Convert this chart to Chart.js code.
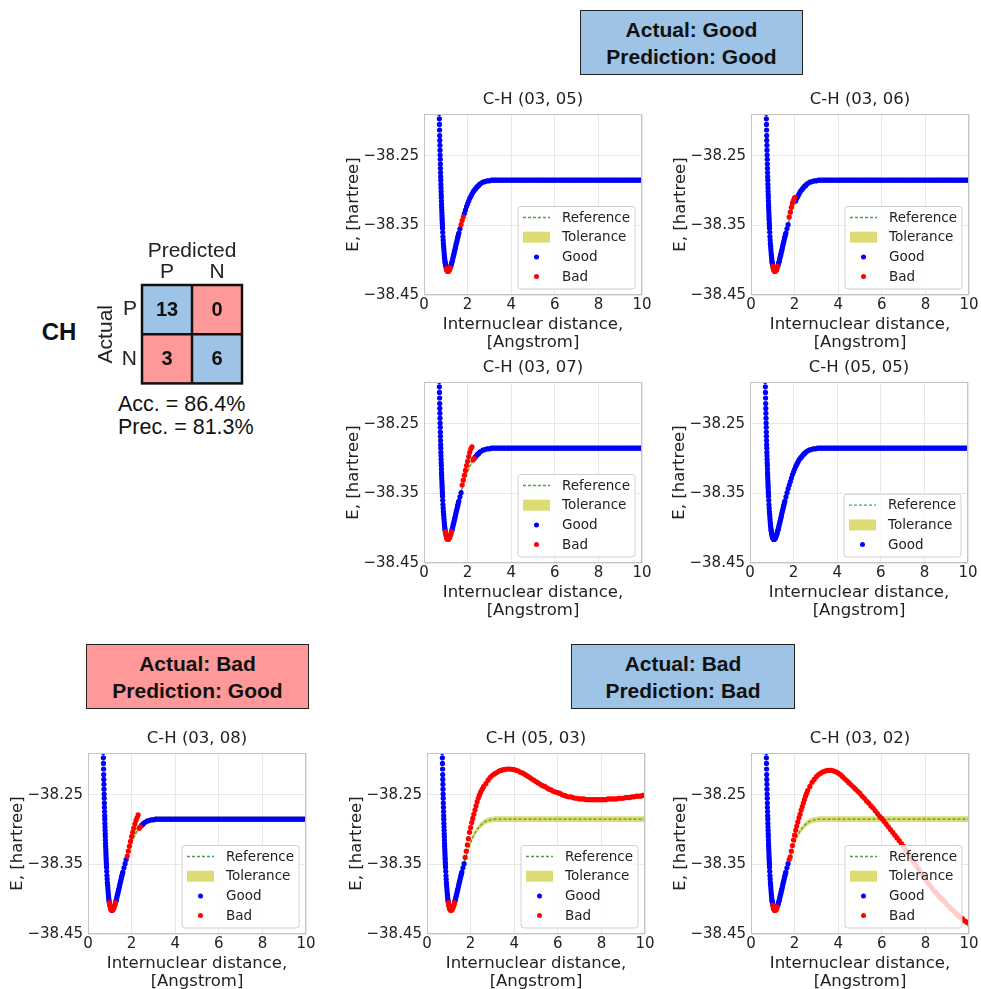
<!DOCTYPE html>
<html lang="en">
<head>
<meta charset="UTF-8" />
<title>CH potential energy curves</title>
<script src="https://cdn.jsdelivr.net/npm/chart.js@4.4.1/dist/chart.umd.min.js"></script>
<style>
  body { margin: 0; width: 981px; height: 989px; overflow: hidden; background: #fff; position: relative;
         font-family: "Liberation Sans", Arial, sans-serif; color: #111; }
  canvas { position: absolute; }
  .box { position: absolute; box-sizing: border-box; border: 1px solid #222; display: flex; flex-direction: column;
         justify-content: center; align-items: center; font-weight: bold; font-size: 21px; line-height: 27px; color: #111; }
  .blue { background: #9dc3e6; }
  .red { background: #ff9999; }
  .txt { position: absolute; white-space: nowrap; line-height: 1; transform: translate(0, -50%); }
</style>
</head>
<body>
<div class="box blue" style="left:580px;top:10px;width:223px;height:65px"><div>Actual: Good</div><div>Prediction: Good</div></div>
<div class="box red" style="left:86px;top:644px;width:223px;height:65px"><div>Actual: Bad</div><div>Prediction: Good</div></div>
<div class="box blue" style="left:571px;top:644px;width:224px;height:65px"><div>Actual: Bad</div><div>Prediction: Bad</div></div>
<div class="txt" style="left:59px;top:332px;transform:translate(-50%,-50%);font-weight:bold;font-size:24px">CH</div>
<div class="txt" id="acc" style="left:118px;top:405px;font-size:21.5px"></div>
<div class="txt" id="prec" style="left:118px;top:428px;font-size:21.5px"></div>
<script>
// ---- confusion matrix (rows = actual P/N, cols = predicted P/N)
const cmLabels = ['P', 'N']
const cmCounts = [[13, 0], [3, 6]]

// ---- shared sample grid, Angstrom
const rGrid = [
  0.68, 0.685, 0.69, 0.695, 0.70, 0.705, 0.71, 0.715, 0.72, 0.725, 0.73, 0.735, 0.74, 0.745, 0.75, 0.755, 0.76, 0.765,
  0.77, 0.775, 0.78, 0.785, 0.79, 0.795, 0.80, 0.805, 0.81, 0.815, 0.82, 0.825, 0.83, 0.835, 0.84, 0.845, 0.85,
  0.86, 0.87, 0.88, 0.89, 0.90, 0.91, 0.92, 0.93, 0.94, 0.95, 0.96, 0.97, 0.98, 0.99, 1.00,
  1.02, 1.04, 1.06, 1.08, 1.10, 1.12, 1.14, 1.16, 1.18, 1.20, 1.22, 1.24, 1.26, 1.28, 1.30, 1.32, 1.34, 1.36, 1.38, 1.40,
  1.42, 1.44, 1.46, 1.48, 1.50, 1.52, 1.54, 1.56, 1.58, 1.60,
  1.65, 1.70, 1.75, 1.80, 1.85, 1.90, 1.95, 2.00, 2.05, 2.10, 2.15, 2.20, 2.25, 2.30, 2.35, 2.40, 2.45, 2.50, 2.55, 2.60,
  2.7, 2.8, 2.9, 3.0, 3.1, 3.2, 3.3, 3.4, 3.5, 3.6, 3.7, 3.8, 3.9, 4.0, 4.1, 4.2, 4.3, 4.4, 4.5, 4.6, 4.7, 4.8, 4.9, 5.0,
  5.1, 5.2, 5.3, 5.4, 5.5, 5.6, 5.7, 5.8, 5.9, 6.0, 6.1, 6.2, 6.3, 6.4, 6.5, 6.6, 6.7, 6.8, 6.9, 7.0, 7.1, 7.2, 7.3, 7.4,
  7.5, 7.6, 7.7, 7.8, 7.9, 8.0, 8.1, 8.2, 8.3, 8.4, 8.5, 8.6, 8.7, 8.8, 8.9, 9.0, 9.1, 9.2, 9.3, 9.4, 9.5, 9.6, 9.7, 9.8,
  9.9, 10.0
]

// ---- reference energy on the grid, hartree
const refE = [
  -38.153, -38.163, -38.172, -38.180, -38.189, -38.197, -38.205, -38.213, -38.221, -38.228, -38.235, -38.242, -38.249,
  -38.255, -38.262, -38.268, -38.274, -38.280, -38.285, -38.291, -38.296, -38.301, -38.306, -38.310, -38.315, -38.320,
  -38.324, -38.328, -38.332, -38.336, -38.340, -38.343, -38.347, -38.350, -38.354,
  -38.360, -38.366, -38.371, -38.376, -38.380, -38.384, -38.388, -38.392, -38.395, -38.398, -38.401, -38.403, -38.405,
  -38.407, -38.409,
  -38.412, -38.414, -38.415, -38.416, -38.416, -38.416, -38.415, -38.414, -38.413, -38.411, -38.409, -38.408, -38.405,
  -38.403, -38.401, -38.398, -38.395, -38.393, -38.390, -38.387, -38.385, -38.382, -38.379, -38.376, -38.374, -38.371,
  -38.368, -38.366, -38.363, -38.361,
  -38.355, -38.349, -38.343, -38.338, -38.333, -38.328, -38.323, -38.319, -38.315, -38.311, -38.308, -38.305, -38.302,
  -38.300, -38.298, -38.296, -38.294, -38.293, -38.291, -38.290,
  -38.288, -38.287, -38.286, -38.286,
  -38.285, -38.285, -38.285, -38.285, -38.285, -38.285, -38.285, -38.285, -38.285, -38.285, -38.285, -38.285, -38.285,
  -38.285, -38.285, -38.285, -38.285, -38.285, -38.285, -38.285, -38.285, -38.285, -38.285, -38.285, -38.285, -38.285,
  -38.285, -38.285, -38.285, -38.285, -38.285, -38.285, -38.285, -38.285, -38.285, -38.285, -38.285, -38.285, -38.285,
  -38.285, -38.285, -38.285, -38.285, -38.285, -38.285, -38.285, -38.285, -38.285, -38.285, -38.285, -38.285, -38.285,
  -38.285, -38.285, -38.285, -38.285, -38.285, -38.285, -38.285, -38.285, -38.285, -38.285, -38.285, -38.285, -38.285,
  -38.285, -38.285, -38.285, -38.285, -38.285
]
const tolerance = 0.004

// ---- where the model departs from the reference (values start at the given r)
const dev0306 = [-38.338, -38.331, -38.324, -38.318, -38.314, -38.310]
const dev0307 = [-38.338, -38.331, -38.324, -38.317, -38.310, -38.304, -38.297, -38.291, -38.286, -38.283]
const dev0308 = [-38.338, -38.331, -38.324, -38.317, -38.310, -38.304, -38.298, -38.292, -38.287, -38.283, -38.279]
const dev0503 = [
  -38.340, -38.331, -38.322, -38.313, -38.304, -38.297, -38.290, -38.284, -38.278, -38.272, -38.266, -38.260, -38.255,
  -38.251, -38.247, -38.244, -38.241, -38.238,
  -38.234, -38.229, -38.225, -38.222, -38.220, -38.218, -38.216, -38.215, -38.214, -38.2135, -38.213, -38.213, -38.2135,
  -38.214, -38.215, -38.216, -38.218, -38.219, -38.221, -38.223, -38.225, -38.227, -38.229, -38.231, -38.233, -38.235,
  -38.237, -38.238, -38.240, -38.242, -38.243, -38.245, -38.246, -38.247, -38.248, -38.250, -38.251, -38.252, -38.253,
  -38.253, -38.254, -38.255, -38.255, -38.256, -38.256, -38.256, -38.257, -38.257, -38.257, -38.257, -38.257, -38.257,
  -38.257, -38.257, -38.257, -38.257, -38.256, -38.256, -38.256, -38.256, -38.256, -38.255, -38.255, -38.255, -38.254,
  -38.254, -38.254, -38.253, -38.253, -38.252, -38.252, -38.252, -38.251, -38.251
]
const dev0302 = [
  -38.343, -38.339, -38.331, -38.323, -38.315, -38.308, -38.301, -38.295, -38.289, -38.283, -38.278, -38.272, -38.267,
  -38.262, -38.257, -38.252, -38.248, -38.244,
  -38.238, -38.232, -38.228, -38.224, -38.221, -38.219, -38.217, -38.216, -38.215, -38.215, -38.215, -38.216, -38.217,
  -38.219, -38.221, -38.224, -38.227, -38.230, -38.233, -38.236, -38.239, -38.242, -38.245, -38.248, -38.252, -38.255,
  -38.259, -38.262, -38.266, -38.269, -38.273, -38.277, -38.281, -38.284, -38.288, -38.292, -38.296, -38.300, -38.304,
  -38.308, -38.312, -38.316, -38.320, -38.324, -38.329, -38.334, -38.339, -38.344, -38.348, -38.353, -38.357, -38.362,
  -38.367, -38.372, -38.376, -38.380, -38.384, -38.388, -38.391, -38.395, -38.398, -38.401, -38.404, -38.408, -38.411,
  -38.414, -38.417, -38.420, -38.423, -38.426, -38.428, -38.431, -38.433, -38.435
]

// ---- r ranges flagged "Bad"
const bad0305 = [[1.02, 1.20], [1.70, 1.80]]
const bad0306 = [[1.00, 1.22], [1.75, 2.00]]
const bad0307 = [[0.98, 1.26], [1.75, 2.30]]
const bad0505 = []
const bad0308 = [[0.98, 1.26], [1.80, 2.40]]
const bad0503 = [[0.98, 1.26], [1.75, 10]]
const bad0302 = [[1.00, 1.20], [1.75, 10]]

const xTicks = [0, 2, 4, 6, 8, 10]
const yTicks = [-38.45, -38.35, -38.25]

const panels = [
  { title: 'C-H (03, 05)', bad: bad0305, devFrom: 0, dev: null, left: 424, top: 114 },
  { title: 'C-H (03, 06)', bad: bad0306, devFrom: 1.75, dev: dev0306, left: 751, top: 114 },
  { title: 'C-H (03, 07)', bad: bad0307, devFrom: 1.75, dev: dev0307, left: 424, top: 382 },
  { title: 'C-H (05, 05)', bad: bad0505, devFrom: 0, dev: null, left: 750, top: 382 },
  { title: 'C-H (03, 08)', bad: bad0308, devFrom: 1.80, dev: dev0308, left: 88, top: 753 },
  { title: 'C-H (05, 03)', bad: bad0503, devFrom: 1.75, dev: dev0503, left: 427, top: 753 },
  { title: 'C-H (03, 02)', bad: bad0302, devFrom: 1.75, dev: dev0302, left: 751, top: 753 },
]

const GOOD = '#0000ff'
const BAD = '#ff0000'
const REF_COLOR = 'rgba(40,150,40,0.85)'
const TOL_COLOR = 'rgba(191,191,0,0.55)'
const PLOT_W = 218, PLOT_H = 181, AXIS_W = 80, TITLE_H = 30, XAXIS_H = 56, PAD_R = 15

Chart.defaults.font.family = "'DejaVu Sans', sans-serif"
Chart.defaults.color = '#222'
Chart.defaults.animation = false

const predicted = (from, dev) => {
  let k = 0
  return rGrid.map((r, i) => (dev && r >= from - 1e-9 && k < dev.length ? dev[k++] : refE[i]))
}
const isBad = (r, ranges) => ranges.some(([a, b]) => r >= a - 1e-9 && r <= b + 1e-9)
const minus = (v) => v.toFixed(2).replace('-', '\u2212')

// frame + matplotlib-like legend in the lower right corner
const panelDecor = (items) => ({
  id: 'panelDecor',
  afterDraw(chart) {
    const { ctx, chartArea: a } = chart
    ctx.save()
    ctx.strokeStyle = '#c4c4c4'
    ctx.lineWidth = 1
    ctx.strokeRect(a.left + 0.5, a.top + 0.5, a.width - 1, a.height - 1)

    const w = 117
    const h = 23.4 + (items.length - 1) * 19.7
    const x0 = a.right - 7 - w
    const y0 = a.bottom - 6 - h
    ctx.beginPath()
    if (ctx.roundRect) ctx.roundRect(x0, y0, w, h, 3)
    else ctx.rect(x0, y0, w, h)
    ctx.fillStyle = 'rgba(255,255,255,0.8)'
    ctx.fill()
    ctx.strokeStyle = '#d0d0d0'
    ctx.stroke()

    items.forEach(([label, kind], i) => {
      const cy = y0 + 11 + i * 19.7
      if (kind === 'line') {
        ctx.setLineDash([3, 2])
        ctx.strokeStyle = REF_COLOR
        ctx.lineWidth = 1.3
        ctx.beginPath()
        ctx.moveTo(x0 + 5, cy)
        ctx.lineTo(x0 + 32, cy)
        ctx.stroke()
        ctx.setLineDash([])
      } else if (kind === 'patch') {
        ctx.fillStyle = TOL_COLOR
        ctx.fillRect(x0 + 5, cy - 5.5, 27, 11)
      } else {
        ctx.fillStyle = kind === 'good' ? GOOD : BAD
        ctx.beginPath()
        ctx.arc(x0 + 18.5, cy, 2.5, 0, Math.PI * 2)
        ctx.fill()
      }
      ctx.fillStyle = '#222'
      ctx.font = "13.5px 'DejaVu Sans'"
      ctx.textBaseline = 'middle'
      ctx.fillText(label, x0 + 44, cy + 0.5)
    })
    ctx.restore()
  },
})

function makePanel(p) {
  const cv = document.createElement('canvas')
  cv.width = AXIS_W + PLOT_W + PAD_R
  cv.height = TITLE_H + PLOT_H + XAXIS_H
  cv.style.left = p.left - AXIS_W + 'px'
  cv.style.top = p.top - TITLE_H + 'px'
  document.body.appendChild(cv)

  const pred = predicted(p.devFrom, p.dev)
  const pts = rGrid.map((r, i) => ({ x: r, y: pred[i] }))
  const good = pts.filter((q) => !isBad(q.x, p.bad))
  const bad = pts.filter((q) => isBad(q.x, p.bad))
  const items = [['Reference', 'line'], ['Tolerance', 'patch'], ['Good', 'good']]
  if (bad.length) items.push(['Bad', 'bad'])

  const dots = (data, color) => ({
    data, showLine: false, pointRadius: 2.6, pointHoverRadius: 0, pointBorderWidth: 0,
    pointBackgroundColor: color, clip: 0,
  })

  new Chart(cv, {
    type: 'line',
    data: {
      datasets: [
        dots(bad, BAD),
        dots(good, GOOD),
        {
          data: rGrid.map((r, i) => ({ x: r, y: refE[i] })),
          borderColor: REF_COLOR, borderWidth: 1.2, borderDash: [3, 2], pointRadius: 0, fill: false, clip: 0,
        },
        { data: rGrid.map((r, i) => ({ x: r, y: refE[i] + tolerance })), borderWidth: 0, pointRadius: 0, fill: false, clip: 0 },
        {
          data: rGrid.map((r, i) => ({ x: r, y: refE[i] - tolerance })),
          borderWidth: 0, pointRadius: 0, fill: '-1', backgroundColor: TOL_COLOR, clip: 0,
        },
      ],
    },
    options: {
      responsive: false,
      events: [],
      layout: { padding: { left: 0, right: PAD_R, top: 0, bottom: 0 } },
      plugins: {
        legend: { display: false },
        tooltip: { enabled: false },
        title: {
          display: true, text: p.title, fullSize: false, color: '#222',
          font: { size: 16.5, weight: 'normal', lineHeight: 1.2 },
          padding: { top: 6, bottom: 4.2 },
        },
      },
      scales: {
        x: {
          type: 'linear', min: 0, max: 10,
          afterBuildTicks: (s) => { s.ticks = xTicks.map((v) => ({ value: v })) },
          ticks: { font: { size: 15 }, padding: 1, maxRotation: 0 },
          grid: { color: '#e8e8e8', drawTicks: false },
          border: { display: false },
          title: {
            display: true, text: ['Internuclear distance,', '[Angstrom]'],
            font: { size: 16.5, lineHeight: 1.05 }, padding: { top: 0, bottom: 0 },
          },
          afterFit: (s) => { s.height = XAXIS_H },
        },
        y: {
          type: 'linear', min: -38.45, max: -38.19,
          afterBuildTicks: (s) => { s.ticks = yTicks.map((v) => ({ value: v })) },
          ticks: { font: { size: 15 }, padding: 5, callback: (v) => minus(v) },
          grid: { color: '#e8e8e8', drawTicks: false },
          border: { display: false },
          title: { display: true, text: 'E, [hartree]', font: { size: 16.5, lineHeight: 1.2 }, padding: 0 },
          afterFit: (s) => { s.width = AXIS_W },
        },
      },
    },
    plugins: [panelDecor(items)],
  })
}

panels.forEach(makePanel)

// ---- confusion matrix as a stacked bar chart of unit cells
const cmCanvas = document.createElement('canvas')
cmCanvas.width = 48 + 100 + 6
cmCanvas.height = 50 + 100 + 16
cmCanvas.style.left = 142 - 48 + 'px'
cmCanvas.style.top = 285 - 50 + 'px'
document.body.appendChild(cmCanvas)

const cellColor = (row) => cmLabels.map((_, col) => (row === col ? '#9dc3e6' : '#ff9999'))
const cmFont = "'Liberation Sans', Arial, sans-serif"

new Chart(cmCanvas, {
  type: 'bar',
  data: {
    labels: cmLabels,
    datasets: [
      { data: [1, 1], counts: cmCounts[1], backgroundColor: cellColor(1), borderWidth: 0 },
      { data: [1, 1], counts: cmCounts[0], backgroundColor: cellColor(0), borderWidth: 0 },
    ],
  },
  options: {
    responsive: false,
    events: [],
    layout: { padding: { left: 0, right: 6, top: 0, bottom: 16 } },
    barPercentage: 1,
    categoryPercentage: 1,
    plugins: { legend: { display: false }, tooltip: { enabled: false } },
    scales: {
      x: {
        stacked: true, position: 'top',
        grid: { display: false, drawTicks: false }, border: { display: false },
        ticks: { font: { family: cmFont, size: 21 }, color: '#222', padding: 0 },
        title: { display: true, text: 'Predicted', color: '#222', font: { family: cmFont, size: 21 }, padding: { top: 3.4, bottom: 0 } },
        afterFit: (s) => { s.height = 50 },
      },
      y: {
        stacked: true, min: 0, max: 2,
        afterBuildTicks: (s) => { s.ticks = [{ value: 0.5 }, { value: 1.5 }] },
        ticks: { font: { family: cmFont, size: 21 }, color: '#222', padding: 5, callback: (v) => cmLabels[v > 1 ? 0 : 1] },
        grid: { display: false, drawTicks: false }, border: { display: false },
        title: { display: true, text: 'Actual', color: '#222', font: { family: cmFont, size: 21 }, padding: 0 },
        afterFit: (s) => { s.width = 48 },
      },
    },
  },
  plugins: [{
    id: 'cmCells',
    afterDatasetsDraw(chart) {
      const { ctx, chartArea: a, scales } = chart
      ctx.save()
      ctx.font = `bold 20px ${cmFont}`
      ctx.fillStyle = '#111'
      ctx.textAlign = 'center'
      ctx.textBaseline = 'middle'
      chart.data.datasets.forEach((ds, di) => {
        chart.getDatasetMeta(di).data.forEach((el, ci) => {
          ctx.fillText(String(ds.counts[ci]), el.x, (el.y + el.base) / 2 + 1)
        })
      })
      ctx.strokeStyle = '#111'
      ctx.lineWidth = 2.5
      ctx.strokeRect(a.left, a.top, a.width, a.height)
      const xm = (scales.x.getPixelForValue(0) + scales.x.getPixelForValue(1)) / 2
      const ym = scales.y.getPixelForValue(1)
      ctx.beginPath()
      ctx.moveTo(xm, a.top)
      ctx.lineTo(xm, a.bottom)
      ctx.moveTo(a.left, ym)
      ctx.lineTo(a.right, ym)
      ctx.stroke()
      ctx.restore()
    },
  }],
})

// accuracy / precision from the matrix
const tp = cmCounts[0][0], fn = cmCounts[0][1], fp = cmCounts[1][0], tn = cmCounts[1][1]
document.getElementById('acc').textContent = `Acc. = ${(((tp + tn) / (tp + fn + fp + tn)) * 100).toFixed(1)}%`
document.getElementById('prec').textContent = `Prec. = ${((tp / (tp + fp)) * 100).toFixed(1)}%`
</script>
</body>
</html>
